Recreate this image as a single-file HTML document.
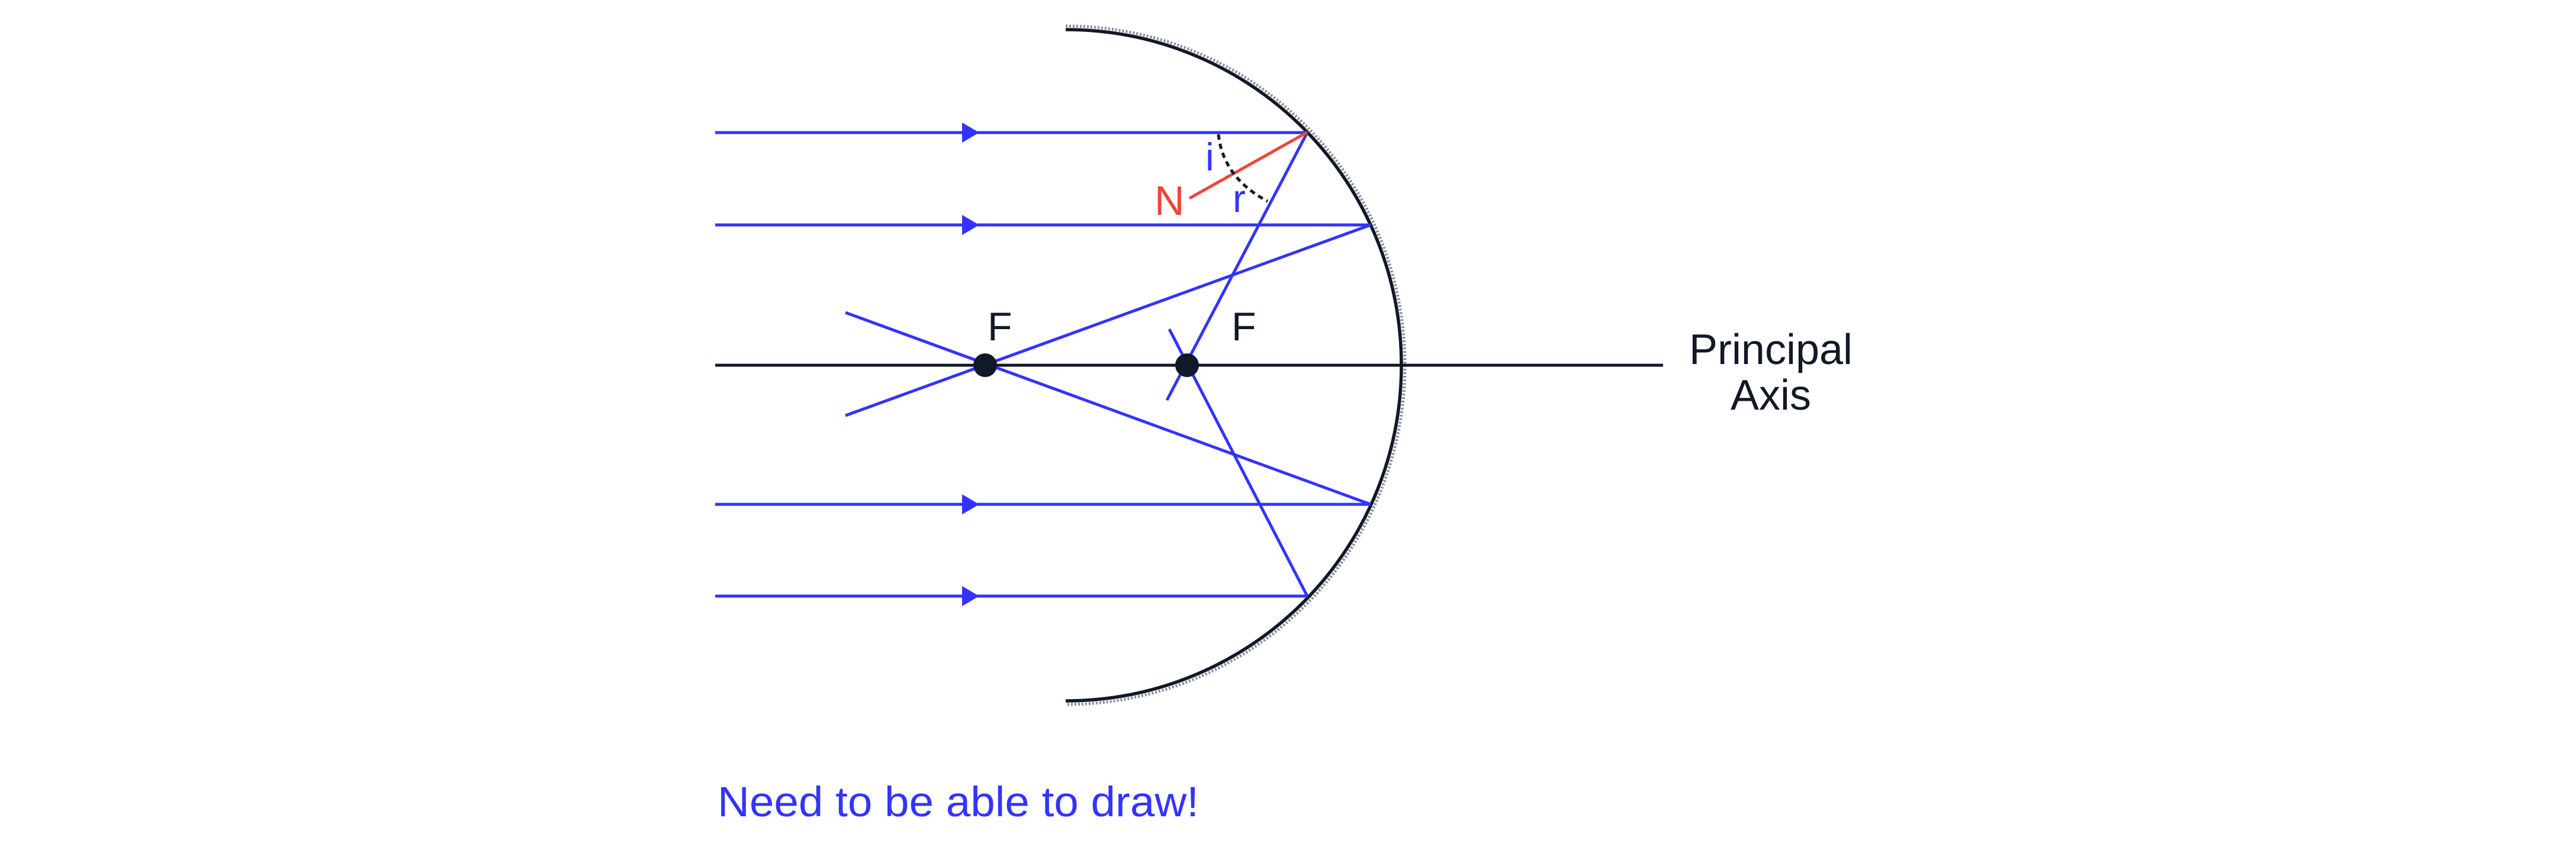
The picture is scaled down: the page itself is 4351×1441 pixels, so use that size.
<!DOCTYPE html>
<html><head><meta charset="utf-8"><style>
html,body{margin:0;padding:0;background:#fff;}
svg{display:block;}
text{font-family:"Liberation Sans",sans-serif;}
</style></head><body>
<svg width="4351" height="1441" viewBox="0 0 4351 1441" xmlns="http://www.w3.org/2000/svg">
<rect width="4351" height="1441" fill="#fff"/>
<path d="M1800 44 A573 573 0 0 1 1800 1190" fill="none" stroke="#8a8f98" stroke-width="5" stroke-dasharray="3 3"/>
<path d="M1800 50 A567 567 0 0 1 1800 1184" fill="none" stroke="#111827" stroke-width="5.5"/>
<line x1="1208" y1="617" x2="2809" y2="617" stroke="#111827" stroke-width="5"/>
<g stroke="#3333ff" stroke-width="5" fill="none">
<line x1="1208" y1="224" x2="2209" y2="224"/>
<line x1="1208" y1="380" x2="2315" y2="380"/>
<line x1="1208" y1="852" x2="2315" y2="852"/>
<line x1="1208" y1="1007" x2="2209" y2="1007"/>
<line x1="2315" y1="380" x2="1428" y2="702"/>
<line x1="2315" y1="852" x2="1428" y2="528"/>
<line x1="2208" y1="224" x2="1971" y2="676"/>
<line x1="2208" y1="1007" x2="1975" y2="556"/>
</g>
<g fill="#3333ff">
<polygon points="1625,207 1654,224 1625,241"/>
<polygon points="1625,363 1654,380 1625,397"/>
<polygon points="1625,835 1654,852 1625,869"/>
<polygon points="1625,990 1654,1007 1625,1024"/>
</g>
<line x1="2207" y1="224" x2="2009" y2="335" stroke="#f04438" stroke-width="5"/>
<path d="M2058 227 Q2066 300 2141 340" fill="none" stroke="#111827" stroke-width="5" stroke-dasharray="9 7"/>
<circle cx="1664" cy="617" r="20" fill="#111827"/>
<circle cx="2005" cy="617" r="20" fill="#111827"/>
<text x="1668" y="575" font-size="68" fill="#111827">F</text>
<text x="2080" y="575" font-size="68" fill="#111827">F</text>
<text x="1950" y="363" font-size="70" fill="#f04438">N</text>
<text x="2036" y="288" font-size="66" fill="#3333ff">i</text>
<text x="2082" y="358" font-size="66" fill="#3333ff">r</text>
<text x="2991" y="615" font-size="72" fill="#111827" text-anchor="middle">Principal</text>
<text x="2991" y="692" font-size="72" fill="#111827" text-anchor="middle">Axis</text>
<text x="1212" y="1379" font-size="71" fill="#3333ff" textLength="813" lengthAdjust="spacingAndGlyphs">Need to be able to draw!</text>
</svg>
</body></html>
